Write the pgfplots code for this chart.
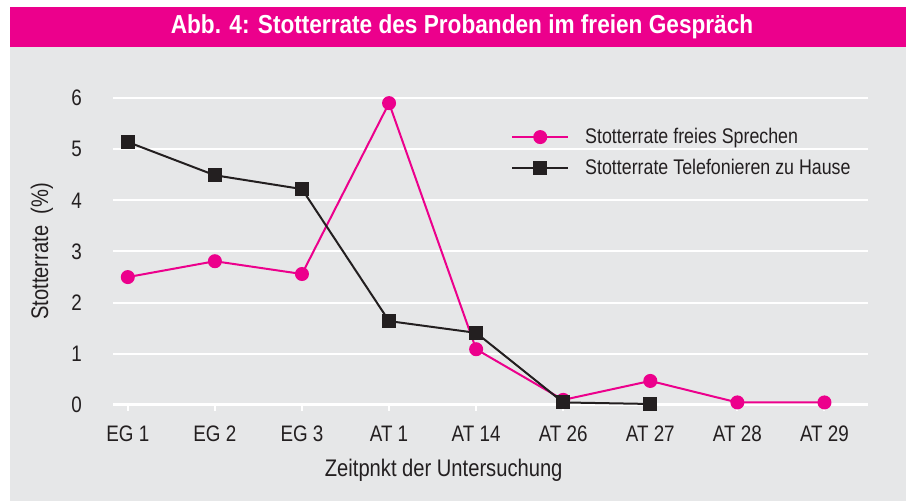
\documentclass[border=0pt]{standalone}
\usepackage{pgfplots}
\pgfplotsset{compat=1.18}
\usepackage{fontspec}
\setmainfont{Liberation Sans}[FakeStretch=0.84]
\newfontfamily\titlefont{Liberation Sans}[FakeStretch=0.87]
\definecolor{mag}{HTML}{EC008C}
\definecolor{bgray}{HTML}{E6E7E8}
\definecolor{txt}{HTML}{231F20}
\begin{document}
\begin{tikzpicture}
\useasboundingbox (0pt,0pt) rectangle (453pt,-250.5pt);
\fill[white] (0pt,0pt) rectangle (453pt,-250.5pt);
\fill[bgray] (5pt,-23.5pt) rectangle (453pt,-250.5pt);
\fill[mag] (5pt,-3.5pt) rectangle (453pt,-23.5pt);
\node[white,font=\titlefont\bfseries\fontsize{13}{15}\selectfont] at (231pt,-13.5pt) {Abb. 4: Stotterrate des Probanden im freien Gespräch};
\begin{axis}[
  at={(56.5pt,-202.5pt)}, anchor=south west,
  scale only axis, width=377.5pt, height=153.5pt,
  xmin=-0.17, xmax=8.5, ymin=0, ymax=6,
  clip=false,
  axis x line*=bottom, axis y line*=left,
  y axis line style={draw=none},
  x axis line style={white, line width=1.5pt, -},
  ytick={0,1,2,3,4,5,6},
  xtick={0,1,2,3,4,5,6,7,8},
  xticklabels={EG 1,EG 2,EG 3,AT 1,AT 14,AT 26,AT 27,AT 28,AT 29},
  ytick style={draw=none},
  xtick style={white, line width=1pt},
  tick align=outside, major tick length=3pt,
  ymajorgrids, grid style={white, line width=1pt},
  /pgf/number format/assume math mode=true,
  tick label style={font=\fontsize{11.2}{13}\selectfont, text=txt},
  y tick label style={xshift=-9pt},
  x tick label style={yshift=-4pt},
  xlabel={Zeitpnkt der Untersuchung},
  ylabel={Stotterrate~~(\%)},
  label style={font=\fontsize{12}{14}\selectfont, text=txt},
  xlabel style={at={(axis description cs:0.438,0)}, anchor=center, yshift=-32.5pt},
  ylabel style={at={(axis description cs:-0.094,0.5)}, anchor=center},
  legend style={draw=none, fill=none, at={(axis description cs:0.519,0.93)}, anchor=north west,
    font=\fontsize{10.6}{12}\selectfont, text=txt, row sep=2.5pt,
    /tikz/every odd column/.append style={column sep=6pt}},
  legend cell align=left,
  legend image code/.code={\draw[mark repeat=2, mark phase=2, #1] plot coordinates {(0pt,0pt) (14pt,0pt) (28pt,0pt)};},
]
\addplot[mag, line width=1pt, mark=*, mark size=3pt, mark options={solid, fill=mag}]
coordinates {(0,2.5) (1,2.81) (2,2.56) (3,5.9) (4,1.09) (5,0.1) (6,0.47) (7,0.05) (8,0.05)};
\addlegendentry{Stotterrate freies Sprechen}
\addplot[txt, line width=1pt, mark=square*, mark size=3pt, mark options={solid, fill=txt}]
coordinates {(0,5.14) (1,4.49) (2,4.22) (3,1.64) (4,1.41) (5,0.05) (6,0.02)};
\addlegendentry{Stotterrate Telefonieren zu Hause}
\end{axis}
\end{tikzpicture}
\end{document}
